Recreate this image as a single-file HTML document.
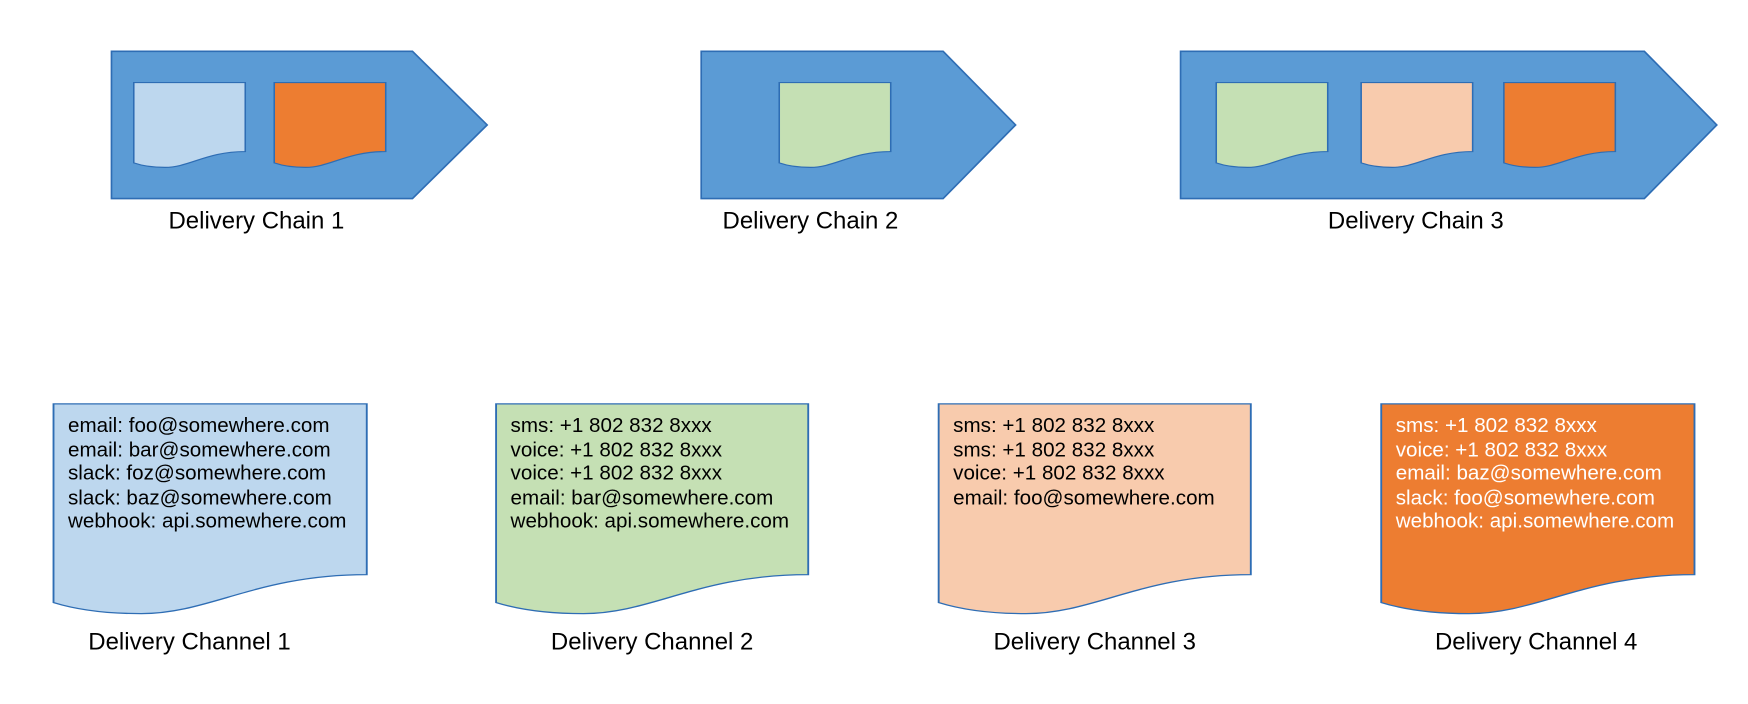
<!DOCTYPE html>
<html><head><meta charset="utf-8"><style>
html,body{margin:0;padding:0;background:#fff;width:1748px;height:704px;overflow:hidden}
svg{display:block}
text{font-family:"Liberation Sans",Arial,sans-serif}
</style></head><body>
<svg width="1748" height="704" viewBox="0 0 1568 631" preserveAspectRatio="none" xmlns="http://www.w3.org/2000/svg">
<defs>
<path id="doc" d="M0,0 H1 V0.814 C0.65,0.814 0.5,1 0.28,1 C0.14,1 0.05,0.97 0,0.947 Z"/>
</defs>
<g stroke="#2E6DB4" stroke-width="1.5">
<polygon points="100,46 370,46 437,112 370,178 100,178" fill="#5B9BD5"/>
<polygon points="629,46 846,46 911,112 846,178 629,178" fill="#5B9BD5"/>
<polygon points="1059,46 1475,46 1540,112 1475,178 1059,178" fill="#5B9BD5"/>
</g>
<g stroke="#2E6DB4">
<g stroke-width="0.014">
<use href="#doc" transform="translate(120,74) scale(100,76)" fill="#BDD7EE"/>
<use href="#doc" transform="translate(246,74) scale(100,76)" fill="#ED7D31"/>
<use href="#doc" transform="translate(699,74) scale(100,76)" fill="#C5E0B4"/>
<use href="#doc" transform="translate(1091,74) scale(100,76)" fill="#C5E0B4"/>
<use href="#doc" transform="translate(1221,74) scale(100,76)" fill="#F8CBAD"/>
<use href="#doc" transform="translate(1349,74) scale(100,76)" fill="#ED7D31"/>
</g>
<g stroke-width="0.006">
<use href="#doc" transform="translate(48,362) scale(281,188)" fill="#BDD7EE"/>
<use href="#doc" transform="translate(445,362) scale(280,188)" fill="#C5E0B4"/>
<use href="#doc" transform="translate(842,362) scale(280,188)" fill="#F8CBAD"/>
<use href="#doc" transform="translate(1239,362) scale(281,188)" fill="#ED7D31"/>
</g>
</g>
<g font-size="21.5" fill="#000" text-anchor="middle">
<text x="230" y="205">Delivery Chain 1</text>
<text x="727" y="205">Delivery Chain 2</text>
<text x="1270" y="205">Delivery Chain 3</text>
<text x="170" y="582">Delivery Channel 1</text>
<text x="585" y="582">Delivery Channel 2</text>
<text x="982" y="582">Delivery Channel 3</text>
<text x="1378" y="582">Delivery Channel 4</text>
</g>
<g font-size="18.5" fill="#000">
<text x="61" y="387">email: foo@somewhere.com</text>
<text x="61" y="409">email: bar@somewhere.com</text>
<text x="61" y="430">slack: foz@somewhere.com</text>
<text x="61" y="452">slack: baz@somewhere.com</text>
<text x="61" y="473">webhook: api.somewhere.com</text>
<text x="458" y="387">sms: +1 802 832 8xxx</text>
<text x="458" y="409">voice: +1 802 832 8xxx</text>
<text x="458" y="430">voice: +1 802 832 8xxx</text>
<text x="458" y="452">email: bar@somewhere.com</text>
<text x="458" y="473">webhook: api.somewhere.com</text>
<text x="855" y="387">sms: +1 802 832 8xxx</text>
<text x="855" y="409">sms: +1 802 832 8xxx</text>
<text x="855" y="430">voice: +1 802 832 8xxx</text>
<text x="855" y="452">email: foo@somewhere.com</text>
</g>
<g font-size="18.5" fill="#fff">
<text x="1252" y="387">sms: +1 802 832 8xxx</text>
<text x="1252" y="409">voice: +1 802 832 8xxx</text>
<text x="1252" y="430">email: baz@somewhere.com</text>
<text x="1252" y="452">slack: foo@somewhere.com</text>
<text x="1252" y="473">webhook: api.somewhere.com</text>
</g>
</svg>
</body></html>
